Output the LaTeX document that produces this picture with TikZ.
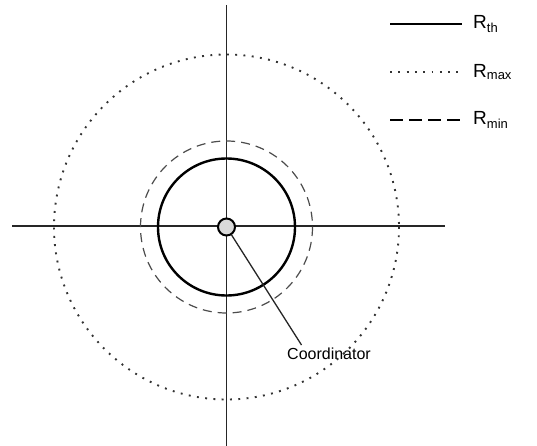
\documentclass[tikz,border=0pt]{standalone}
\usepackage{fontspec}
\setmainfont{Liberation Sans}
\tikzset{
  axisline/.style={line width=1.4pt, draw=black!85},
  rth/.style={line width=2.4pt, draw=black},
  rmax/.style={line width=1.9pt, draw=black!80, dash pattern=on 1.9pt off 6.4pt},
  rmin/.style={line width=1.2pt, draw=black!70, dash pattern=on 9pt off 6pt},
  rminkey/.style={line width=2.4pt, draw=black, dash pattern=on 13pt off 6pt},
  hubnode/.style={circle, draw=black, fill=black!15, line width=2pt, minimum size=17pt, inner sep=0pt},
  keylabel/.style={font=\fontsize{19}{22}\selectfont, anchor=west, inner sep=0pt},
  coordlabel/.style={font=\fontsize{16}{19}\selectfont, anchor=west, inner sep=0pt},
}
\newcommand{\rsub}[1]{R\textsubscript{\fontsize{13}{15}\selectfont #1}}

\begin{document}
\begin{tikzpicture}[x=1pt, y=-1pt]
\useasboundingbox (0,0) rectangle (537,446);
\coordinate (o) at (226.5,227);
% axes
\coordinate (xl) at (12,226);
\coordinate (xr) at (445,226);
\coordinate (yt) at (226.5,5);
\coordinate (yb) at (226.5,446);
\draw[axisline] (xl) -- (xr);
\draw[axisline] (yt) -- (yb);
% ranges
\draw[rmax] (o) circle (172.5);
\draw[rmin] (o) circle (86);
\draw[rth] (o) circle (68.5);
% coordinator
\node[hubnode] (hub) at (o) {};
\node[coordlabel] (hublabel) at (287,354) {Coordinator};
\coordinate (tip) at (301.5,345);
\draw[line width=1.3pt, black!85] (hub) -- (tip);
% legend
\coordinate (k1a) at (390,24);  \coordinate (k1b) at (462,24);
\coordinate (k2a) at (390,72);  \coordinate (k2b) at (462,72);
\coordinate (k3a) at (390,120); \coordinate (k3b) at (462,120);
\draw[rth] (k1a) -- (k1b);
\draw[rmax] (k2a) -- (k2b);
\draw[rminkey] (k3a) -- (k3b);
\node[keylabel] (lth) at (473,24) {\rsub{th}};
\node[keylabel] (lmax) at (473,72) {\rsub{max}};
\node[keylabel] (lmin) at (473,120) {\rsub{min}};
\end{tikzpicture}
\end{document}
